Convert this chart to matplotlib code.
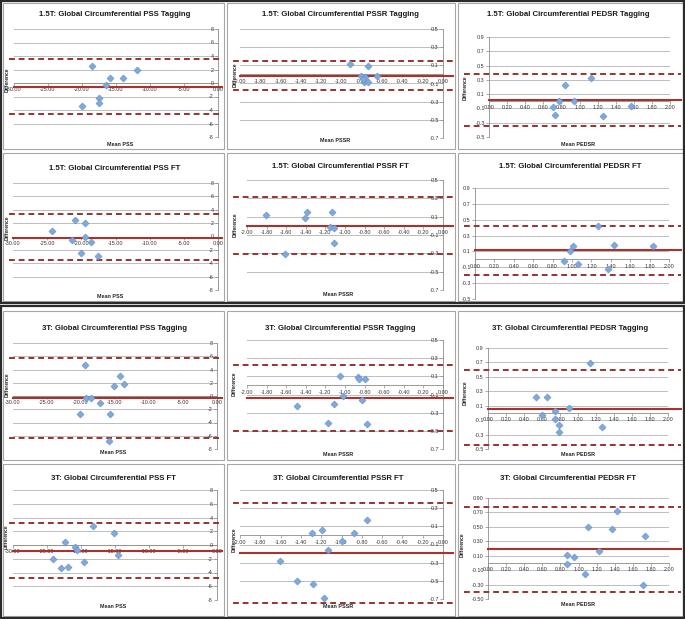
import numpy as np
import matplotlib
matplotlib.use("Agg")
import matplotlib.pyplot as plt
from matplotlib.patches import Rectangle

plt.rcParams['font.family'] = ['Liberation Sans', 'DejaVu Sans']
plt.rcParams['axes.unicode_minus'] = False

W, H = 685, 619   # output size in px (dpi 100)

# ── Data: mean of two methods vs difference ──
# 1.5T tagging
pss15_tag_x = [-18.5, -11.9, -15.9, -14.0, -16.5, -17.45, -17.55, -20.0]
pss15_tag_y = [2.45, 1.95, 0.75, 0.75, -0.3, -2.25, -2.9, -3.4]
pss15_tag_lines = [-0.55, 3.5, -4.6]          # bias, upper LoA, lower LoA

pssr15_tag_x = [-0.915, -0.74, -0.81, -0.77, -0.78, -0.735, -0.655, -0.79]
pssr15_tag_y = [0.11, 0.095, -0.02, -0.026, -0.08, -0.08, -0.015, -0.05]
pssr15_tag_lines = [-0.015, 0.143, -0.17]

pedsr15_tag_x = [0.71, 0.73, 0.77, 0.84, 0.94, 1.13, 1.26, 1.57]
pedsr15_tag_y = [-0.08, -0.19, 0.01, 0.23, 0.01, 0.33, -0.21, -0.07]
pedsr15_tag_lines = [0.02, 0.38, -0.34]

# 1.5T feature tracking
pss15_ft_x = [-24.3, -21.0, -19.4, -21.3, -19.5, -18.6, -20.1, -17.5]
pss15_ft_y = [0.84, 2.4, 2.0, -0.45, -0.05, -0.75, -2.5, -2.9]
pss15_ft_lines = [-0.15, 3.35, -3.45]

pssr15_ft_x = [-1.81, -1.386, -1.41, -1.136, -1.15, -1.115, -1.11, -1.61]
pssr15_ft_y = [0.116, 0.15, 0.087, 0.15, -0.01, -0.02, -0.19, -0.31]
pssr15_ft_lines = [0.0, 0.31, -0.31]

pedsr15_ft_x = [0.92, 0.98, 1.01, 1.06, 1.265, 1.37, 1.43, 1.83]
pedsr15_ft_y = [-0.02, 0.10, 0.17, -0.06, 0.42, -0.12, 0.18, 0.17]
pedsr15_ft_lines = [0.12, 0.42, -0.2]

# 3T tagging
pss3_tag_x = [-19.46, -14.2, -15.15, -13.7, -19.2, -18.6, -17.25, -20.15, -15.8, -15.9]
pss3_tag_y = [4.74, 2.96, 1.53, 1.83, -0.35, -0.35, -1.09, -2.72, -2.77, -6.8]
pss3_tag_lines = [-0.3, 5.7, -6.3]

pssr3_tag_x = [-1.054, -0.868, -0.858, -0.797, -1.017, -0.83, -1.49, -1.115, -1.17, -0.776]
pssr3_tag_y = [0.106, 0.092, 0.066, 0.066, -0.117, -0.165, -0.23, -0.21, -0.41, -0.425]
pssr3_tag_lines = [-0.14, 0.23, -0.5]

pedsr3_tag_x = [0.53, 0.65, 0.60, 0.74, 0.74, 0.79, 0.79, 0.90, 1.13, 1.27]
pedsr3_tag_y = [0.22, 0.225, -0.03, 0.03, -0.09, -0.17, -0.27, 0.064, 0.69, -0.19]
pedsr3_tag_lines = [0.055, 0.60, -0.44]

# 3T feature tracking
pss3_ft_x = [-18.2, -15.1, -22.4, -20.9, -20.6, -14.6, -24.1, -19.5, -21.85, -23.0]
pss3_ft_y = [2.8, 1.8, 0.39, -0.3, -0.73, -1.45, -2.0, -2.5, -3.15, -3.35]
pss3_ft_lines = [-0.8, 3.15, -4.75]

pssr3_ft_x = [-0.744, -1.295, -1.197, -0.879, -1.0, -1.131, -1.607, -1.44, -1.285, -1.174]
pssr3_ft_y = [0.167, 0.024, 0.064, 0.024, -0.06, -0.163, -0.277, -0.5, -0.54, -0.688]
pssr3_ft_lines = [-0.19, 0.355, -0.745]

pedsr3_ft_x = [0.87, 0.87, 0.95, 1.10, 1.07, 1.23, 1.37, 1.42, 1.74, 1.71]
pedsr3_ft_y = [0.104, -0.016, 0.076, 0.497, -0.155, 0.164, 0.468, 0.718, 0.367, -0.307]
pedsr3_ft_lines = [0.2, 0.78, -0.4]

# ── Axis ticks ──
pss_xticks = [-30, -25, -20, -15, -10, -5, 0]
pss_yticks = [-8, -6, -4, -2, 0, 2, 4, 6, 8]
pssr_xticks = [-2.0, -1.8, -1.6, -1.4, -1.2, -1.0, -0.8, -0.6, -0.4, -0.2, 0.0]
pssr_yticks = [-0.7, -0.5, -0.3, -0.1, 0.1, 0.3, 0.5]
pedsr_xticks = [0.0, 0.2, 0.4, 0.6, 0.8, 1.0, 1.2, 1.4, 1.6, 1.8, 2.0]
pedsr_yticks = [-0.5, -0.3, -0.1, 0.1, 0.3, 0.5, 0.7, 0.9]

# ── Layout (pixel boxes) ──
# plot area: x0, x1, ytop, ybottom ; frame: x0, y0, x1, y1 ; title/label spots
panels = [
    dict(title="1.5T: Global Circumferential PSS Tagging", x=pss15_tag_x, y=pss15_tag_y, lines=pss15_tag_lines,
         xt=pss_xticks, yt=pss_yticks, yfmt="{:.0f}", xlab="Mean PSS",
         box=(14, 218, 29, 137), frame=(3, 3, 224, 149), ttl=(115, 15), xl=(120, 144), yl=(7, 80)),
    dict(title="1.5T: Global Circumferential PSSR Tagging", x=pssr15_tag_x, y=pssr15_tag_y, lines=pssr15_tag_lines,
         xt=pssr_xticks, yt=pssr_yticks, yfmt="{:.1f}", xlab="Mean PSSR",
         box=(240, 443, 29, 138), frame=(227, 3, 455, 149), ttl=(340, 15), xl=(335, 140), yl=(235, 75)),
    dict(title="1.5T: Global Circumferential PEDSR Tagging", x=pedsr15_tag_x, y=pedsr15_tag_y, lines=pedsr15_tag_lines,
         xt=pedsr_xticks, yt=pedsr_yticks, yfmt="{:.1f}", xlab="Mean PEDSR",
         box=(489, 670, 37, 137), frame=(458, 3, 683, 149), ttl=(568, 15), xl=(578, 144), yl=(465, 88)),
    dict(title="1.5T: Global Circumferential PSS FT", x=pss15_ft_x, y=pss15_ft_y, lines=pss15_ft_lines,
         xt=pss_xticks, yt=pss_yticks, yfmt="{:.0f}", xlab="Mean PSS",
         box=(13, 218, 183, 290), frame=(3, 153, 224, 301), ttl=(115, 168), xl=(110, 297), yl=(7, 228)),
    dict(title="1.5T: Global Circumferential PSSR FT", x=pssr15_ft_x, y=pssr15_ft_y, lines=pssr15_ft_lines,
         xt=pssr_xticks, yt=pssr_yticks, yfmt="{:.1f}", xlab="Mean PSSR",
         box=(247, 443, 180, 290), frame=(227, 153, 455, 301), ttl=(340, 167), xl=(338, 294), yl=(235, 225)),
    dict(title="1.5T: Global Circumferential PEDSR FT", x=pedsr15_ft_x, y=pedsr15_ft_y, lines=pedsr15_ft_lines,
         xt=pedsr_xticks, yt=pedsr_yticks, yfmt="{:.1f}", xlab=None,
         box=(475, 669, 188, 299), frame=(458, 153, 683, 301), ttl=(570, 167), xl=None, yl=None),
    dict(title="3T: Global Circumferential PSS Tagging", x=pss3_tag_x, y=pss3_tag_y, lines=pss3_tag_lines,
         xt=pss_xticks, yt=pss_yticks, yfmt="{:.0f}", xlab="Mean PSS",
         box=(13, 217, 343, 449), frame=(3, 311, 224, 460), ttl=(115, 328), xl=(113, 453), yl=(7, 385)),
    dict(title="3T: Global Circumferential PSSR Tagging", x=pssr3_tag_x, y=pssr3_tag_y, lines=pssr3_tag_lines,
         xt=pssr_xticks, yt=pssr_yticks, yfmt="{:.1f}", xlab="Mean PSSR",
         box=(247, 443, 340, 449), frame=(227, 311, 455, 460), ttl=(340, 328), xl=(338, 454), yl=(234, 384)),
    dict(title="3T: Global Circumferential PEDSR Tagging", x=pedsr3_tag_x, y=pedsr3_tag_y, lines=pedsr3_tag_lines,
         xt=pedsr_xticks, yt=pedsr_yticks, yfmt="{:.1f}", xlab="Mean PEDSR",
         box=(488, 668, 348, 449), frame=(458, 311, 683, 460), ttl=(570, 328), xl=(578, 454), yl=(465, 393)),
    dict(title="3T: Global Circumferential PSS FT", x=pss3_ft_x, y=pss3_ft_y, lines=pss3_ft_lines,
         xt=pss_xticks, yt=pss_yticks, yfmt="{:.0f}", xlab="Mean PSS",
         box=(13, 217, 490, 600), frame=(3, 464, 224, 616), ttl=(113, 479), xl=(113, 606), yl=(6, 537)),
    dict(title="3T: Global Circumferential PSSR FT", x=pssr3_ft_x, y=pssr3_ft_y, lines=pssr3_ft_lines,
         xt=pssr_xticks, yt=pssr_yticks, yfmt="{:.1f}", xlab="Mean PSSR",
         box=(240, 443, 490, 599), frame=(227, 464, 455, 616), ttl=(338, 478), xl=(338, 606), yl=(234, 540)),
    dict(title="3T: Global Circumferential PEDSR FT", x=pedsr3_ft_x, y=pedsr3_ft_y, lines=pedsr3_ft_lines,
         xt=pedsr_xticks, yt=pedsr_yticks, yfmt="{:.2f}", xlab="Mean PEDSR",
         box=(488, 669, 498, 599), frame=(458, 464, 683, 616), ttl=(568, 478), xl=(578, 604), yl=(462, 545)),
]

RED_MEAN = '#A8322E'
RED_LOA = '#963431'
BLUE = '#80A8DA'
GRID = '#BDBDBD'
AXIS = '#8C8C8C'


def fx(x):
    return x / W


def fy(y):
    return 1 - y / H


fig = plt.figure(figsize=(W / 100, H / 100), dpi=100)
fig.patch.set_facecolor('white')

# ── Frames ──────────────────────────────────────────────
for p in panels:
    x0, y0, x1, y1 = p['frame']
    fig.patches.append(Rectangle((fx(x0), fy(y1)), (x1 - x0) / W, (y1 - y0) / H,
                                 transform=fig.transFigure, fill=False,
                                 edgecolor='#A6A6A6', lw=0.8, zorder=5))
for (y0, y1) in [(1, 303), (306, 618)]:
    fig.patches.append(Rectangle((fx(1), fy(y1)), (683) / W, (y1 - y0) / H,
                                 transform=fig.transFigure, fill=False,
                                 edgecolor='#2B2B2B', lw=1.6, zorder=6))

# ── Panels ──────────────────────────────────────────────
for p in panels:
    x0, x1, yt, yb = p['box']
    ax = fig.add_axes([fx(x0), fy(yb), (x1 - x0) / W, (yb - yt) / H])
    ax.set_facecolor('none')
    xt, yt_ = p['xt'], p['yt']
    ax.set_xlim(xt[0], xt[-1])
    ax.set_ylim(yt_[0], yt_[-1])

    for v in yt_:
        ax.axhline(v, color=GRID, lw=0.7, zorder=0)

    # bias + limits of agreement run a bit past the plot area
    fr = p['frame']
    right = (fr[2] - 2 - x0) / (x1 - x0)
    left = (fr[0] + 6 - x0) / (x1 - x0)
    bias, up, lo = p['lines']
    ax.axhline(bias, xmin=0, xmax=right, color=RED_MEAN, lw=1.5, zorder=2, clip_on=False)
    for v in (up, lo):
        ax.axhline(v, xmin=left, xmax=right, color=RED_LOA, lw=1.4, dashes=(3, 2),
                   zorder=2, clip_on=False)

    ax.scatter(p['x'], p['y'], marker='D', s=13, color=BLUE, edgecolors='#6690C8',
               linewidths=0.4, zorder=4, clip_on=False)

    ax.spines['top'].set_visible(False)
    ax.spines['right'].set_visible(False)
    ax.spines['bottom'].set_position(('data', 0))
    ax.spines['left'].set_position(('data', 0))
    for s in ('bottom', 'left'):
        ax.spines[s].set_color(AXIS)
        ax.spines[s].set_linewidth(0.6)
        ax.spines[s].set_zorder(1)

    ax.set_xticks(xt)
    ax.set_xticklabels([f"{v:.2f}" for v in xt])
    ax.set_yticks(yt_)
    ax.set_yticklabels([p['yfmt'].format(v) for v in yt_])
    ax.tick_params(axis='both', length=2, width=0.5, color=AXIS, labelsize=3.9,
                   labelcolor='#333333', pad=1)

    fig.text(fx(p['ttl'][0]), fy(p['ttl'][1]), p['title'], ha='center', va='center',
             fontsize=5.6, fontweight='bold', color='#1a1a1a')
    if p['xlab']:
        fig.text(fx(p['xl'][0]), fy(p['xl'][1]), p['xlab'], ha='center', va='center',
                 fontsize=3.9, fontweight='bold', color='#222222')
    if p['yl']:
        fig.text(fx(p['yl'][0]), fy(p['yl'][1]), "Difference", ha='center', va='center',
                 rotation=90, fontsize=3.5, fontweight='bold', color='#222222')

fig.savefig("out.png", dpi=100, facecolor='white')
